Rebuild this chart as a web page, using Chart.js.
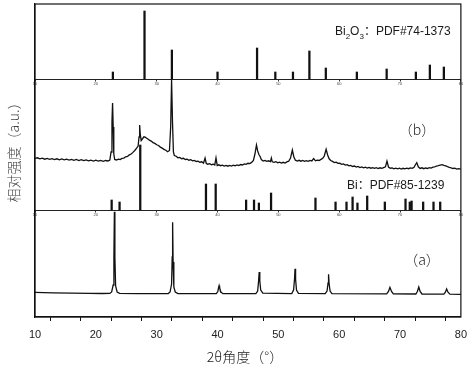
<!DOCTYPE html>
<html>
<head>
<meta charset="utf-8">
<script src="https://cdn.jsdelivr.net/npm/chart.js@4.4.0/dist/chart.umd.min.js"></script>
<style>
  html, body { margin: 0; padding: 0; background: #fff; }
  #wrap { width: 474px; height: 368px; }
</style>
</head>
<body>
<div id="wrap"><canvas id="xrdChart" width="474" height="368"></canvas></div>
<script>
const xTickLabels = [10, 20, 30, 40, 50, 60, 70, 80];

// Bi2O3 reference sticks, PDF#74-1373
const bi2o3Angles = [22.8, 28.0, 32.5, 40.0, 46.5, 49.5, 52.4, 55.1, 57.8, 62.9, 67.8, 72.6, 74.9, 77.2];
const bi2o3Heights = [7, 68, 29, 7, 31, 7, 7, 28, 11, 7, 10, 7, 14, 12];

// Bi reference sticks, PDF#85-1239
const biAngles = [22.6, 23.9, 27.3, 38.1, 39.7, 44.7, 46.0, 46.8, 48.8, 56.1, 59.4, 61.2, 62.2, 63.0, 64.6, 67.5, 70.9, 71.6, 71.9, 73.8, 75.5, 76.6];
const biHeights = [10, 8, 65, 26, 26, 10, 10, 7, 17, 12, 8, 8, 13, 7, 14, 8, 11, 8, 9, 8, 8, 8];

// sample (a)
const aAngles = [10, 13, 16, 19, 21, 22.3, 22.6, 22.85, 22.97, 23.05, 23.13, 23.25, 23.5, 23.9, 27,
  31.9, 32.2, 32.45, 32.55, 32.62, 32.7, 32.82, 33.05, 33.5, 39.8, 40.05, 40.2, 40.26, 40.35, 40.55, 40.9,
  46.3, 46.6, 46.75, 46.85, 46.95, 47.1, 47.45, 52.2, 52.5, 52.66, 52.74, 52.83, 52.98, 53.3,
  57.7, 58.0, 58.17, 58.25, 58.33, 58.5, 58.8, 67.8, 68.1, 68.34, 68.6, 68.9,
  72.6, 72.85, 73.08, 73.3, 73.6, 77.2, 77.45, 77.66, 77.88, 78.2, 80];
const aCounts = [24.6, 24.2, 23.9, 23.6, 23.5, 23.6, 25, 32, 60, 105.3, 60, 31, 25, 23.6, 23.4,
  23.5, 25, 33, 60, 94.7, 55, 30, 25, 23.4, 23.3, 25.5, 30, 31.3, 29, 25, 23.3,
  23.4, 26, 36, 45, 36, 27, 23.8, 23.4, 27, 38, 48.3, 38, 27, 23.6,
  23.3, 26, 34, 42.7, 34, 26, 23.4, 23.1, 25.5, 29.7, 25.5, 23.1,
  23.0, 25.5, 30, 25.5, 23.0, 22.9, 24.8, 28, 24.8, 22.9, 22.7];

// sample (b), [2theta, intensity]
const bPoints = [
  [10.0, 13.5], [10.4, 14.2], [10.8, 13.1], [11.2, 13.9], [11.6, 12.8], [12.0, 13.6], [12.4, 12.7], [12.8, 13.4],
  [13.2, 12.5], [13.6, 13.2], [14.0, 12.2], [14.4, 13.0], [14.8, 12.1], [15.2, 12.8], [15.6, 11.9], [16.0, 12.6],
  [16.4, 11.7], [16.8, 12.5], [17.2, 11.5], [17.6, 12.3], [18.0, 11.4], [18.4, 12.1], [18.8, 11.2], [19.2, 11.9],
  [19.6, 11.0], [20.0, 11.8], [20.4, 10.9], [20.8, 11.6], [21.2, 10.7], [21.6, 11.5], [22.0, 11.0], [22.3, 12.0],
  [22.5, 20], [22.65, 50], [22.75, 69], [22.85, 45], [22.95, 18], [23.1, 12.5], [23.4, 12.0], [23.7, 12.8],
  [24.0, 12.4], [24.3, 13.6], [24.6, 13.9], [24.9, 15.2], [25.2, 15.6], [25.5, 17.1], [25.8, 18.0], [26.1, 19.6],
  [26.4, 21.5], [26.7, 23.8], [26.95, 26], [27.1, 35], [27.2, 47], [27.3, 38], [27.45, 31.5], [27.7, 33.5],
  [27.9, 35.2], [28.1, 34.8], [28.3, 34.0], [28.5, 33.2], [28.8, 31.8], [29.1, 30.9], [29.4, 29.4], [29.7, 28.6],
  [30.0, 27.2], [30.3, 26.5], [30.6, 24.9], [30.9, 23.9], [31.2, 22.6], [31.5, 21.8], [31.8, 20.3], [32.1, 21.5],
  [32.3, 45], [32.45, 92], [32.6, 50], [32.75, 20], [32.9, 16.5], [33.2, 15.8], [33.5, 14.2], [33.8, 14.6],
  [34.1, 13.3], [34.4, 13.7], [34.7, 12.5], [35.0, 12.9], [35.3, 11.8], [35.6, 12.3], [35.9, 11.2], [36.2, 11.6],
  [36.5, 10.5], [36.8, 10.9], [37.1, 9.8], [37.4, 10.2], [37.7, 8.9], [37.95, 14], [38.15, 8.5], [38.4, 7.8],
  [38.7, 8.4], [39.0, 7.3], [39.3, 7.9], [39.55, 7.1], [39.75, 14], [39.95, 6.5], [40.2, 7.2], [40.5, 6.3],
  [40.8, 6.9], [41.1, 5.9], [41.4, 6.6], [41.7, 5.8], [42.0, 6.5], [42.3, 5.9], [42.6, 6.8], [42.9, 6.1],
  [43.2, 7.0], [43.5, 6.4], [43.8, 7.5], [44.1, 7.0], [44.4, 8.1], [44.7, 7.6], [45.0, 8.7], [45.3, 8.4],
  [45.6, 9.6], [45.9, 11.5], [46.15, 18], [46.4, 27], [46.6, 21], [46.8, 17.5], [47.0, 15.5], [47.2, 12.4],
  [47.5, 11.0], [47.8, 11.6], [48.1, 10.6], [48.4, 11.2], [48.7, 10.4], [48.85, 14], [49.0, 10.2], [49.3, 9.6],
  [49.6, 10.3], [49.9, 9.2], [50.2, 9.9], [50.5, 8.9], [50.8, 9.7], [51.1, 9.0], [51.4, 10.1], [51.7, 10.8],
  [52.0, 14], [52.3, 22], [52.55, 15], [52.8, 11.8], [53.1, 11.0], [53.4, 11.7], [53.7, 10.8], [54.0, 11.5],
  [54.3, 10.6], [54.6, 11.4], [54.9, 10.7], [55.2, 11.6], [55.5, 11.1], [55.8, 13.5], [56.1, 11.2], [56.4, 11.9],
  [56.7, 11.5], [57.0, 12.6], [57.3, 13.8], [57.55, 16], [57.85, 22.7], [58.1, 17], [58.35, 13.2], [58.6, 11.5],
  [58.9, 10.6], [59.2, 9.4], [59.5, 9.9], [59.8, 8.6], [60.1, 8.9], [60.4, 7.6], [60.7, 8.1], [61.0, 6.9],
  [61.3, 7.3], [61.6, 6.1], [61.9, 6.6], [62.2, 5.5], [62.5, 6.0], [62.8, 4.9], [63.1, 5.5], [63.4, 4.5],
  [63.7, 5.1], [64.0, 4.2], [64.3, 4.8], [64.6, 3.9], [64.9, 4.6], [65.2, 3.8], [65.5, 4.4], [65.8, 3.6],
  [66.1, 4.3], [66.4, 3.5], [66.7, 4.2], [67.0, 3.6], [67.3, 4.4], [67.6, 5.2], [67.85, 11], [68.1, 5.0],
  [68.4, 3.8], [68.7, 4.1], [69.0, 3.2], [69.3, 3.9], [69.6, 3.1], [69.9, 3.8], [70.2, 3.0], [70.5, 3.7],
  [70.8, 3.1], [71.1, 3.9], [71.4, 3.3], [71.7, 4.1], [72.0, 3.6], [72.3, 4.8], [72.55, 7.5], [72.75, 9.3],
  [73.0, 5.2], [73.3, 3.6], [73.6, 4.2], [73.9, 3.3], [74.2, 4.0], [74.5, 3.5], [74.8, 4.3], [75.1, 3.9],
  [75.4, 4.9], [75.7, 5.2], [76.0, 6.0], [76.3, 6.4], [76.6, 6.9], [76.9, 7.3], [77.2, 6.6], [77.5, 6.1],
  [77.8, 5.3], [78.1, 4.6], [78.4, 4.2], [78.7, 3.5], [79.0, 3.8], [79.3, 2.9], [79.6, 3.4], [80.0, 2.8]
];

// vertical stacking of the panels (y units)
const Y_MAX = 313;
const OFFSET_A = 0;
const OFFSET_B = 145;
const BASE_BI = 107;
const BASE_BI2O3 = 238;

const LATIN = '"Liberation Sans", Arial, "Noto Sans CJK SC", sans-serif';
const CJK = '"Noto Sans CJK SC", "Liberation Sans", sans-serif';

const toSticks = (xs, hs, base) => xs.map((x, i) => ({ x: x, y: [base, base + hs[i]] }));

function drawRuns(ctx, runs, x, y, size) {
    ctx.textAlign = 'left';
    ctx.textBaseline = 'alphabetic';
    for (const r of runs) {
        const s = r.sub ? Math.round(size * 0.7) : size;
        ctx.font = s + 'px ' + LATIN;
        ctx.fillText(r.t, x, r.sub ? y + size * 0.3 : y);
        x += ctx.measureText(r.t).width;
    }
}

const labelsPlugin = {
    id: 'labels',
    afterDraw(chart) {
        const ctx = chart.ctx;
        const a = chart.chartArea;
        ctx.save();
        ctx.strokeStyle = '#111';
        ctx.lineWidth = 1.2;
        ctx.strokeRect(a.left, a.top, a.right - a.left, a.bottom - a.top);

        ctx.fillStyle = '#1a1a1a';
        drawRuns(ctx, [{ t: 'Bi' }, { t: '2', sub: true }, { t: 'O' }, { t: '3', sub: true }, { t: '：PDF#74-1373' }], 335, 35, 12);
        drawRuns(ctx, [{ t: 'Bi：PDF#85-1239' }], 347, 189, 12);

        ctx.textAlign = 'center';
        ctx.textBaseline = 'middle';
        ctx.font = '300 14px ' + CJK;
        ctx.fillText('（b）', 417, 130);
        ctx.fillText('（a）', 422, 260);

        ctx.fillText('2θ角度（°）', 245, 357);

        ctx.fillStyle = '#444';
        ctx.translate(14, 149);
        ctx.rotate(-Math.PI / 2);
        ctx.fillText('相对强度（a.u.）', 0, 0);
        ctx.restore();
    }
};

const innerAxis = (base) => ({
    type: 'linear',
    axis: 'x',
    min: 10,
    max: 80,
    position: { y: base },
    ticks: { stepSize: 10, maxRotation: 0, color: '#444', padding: 1, font: { size: 4, family: LATIN } },
    grid: { drawOnChartArea: false, tickLength: 1.5, color: '#333' },
    border: { display: true, color: '#222', width: 1 }
});

new Chart(document.getElementById('xrdChart'), {
    type: 'line',
    data: {
        datasets: [
            {
                type: 'bar',
                data: toSticks(bi2o3Angles, bi2o3Heights, BASE_BI2O3),
                backgroundColor: '#111',
                barThickness: 1.6,
                grouped: false
            },
            {
                type: 'bar',
                data: toSticks(biAngles, biHeights, BASE_BI),
                backgroundColor: '#111',
                barThickness: 1.6,
                grouped: false
            },
            {
                data: aAngles.map((x, i) => ({ x: x, y: aCounts[i] + OFFSET_A })),
                borderColor: '#111',
                borderWidth: 1.3,
                pointRadius: 0,
                tension: 0
            },
            {
                data: bPoints.map(p => ({ x: p[0], y: p[1] + OFFSET_B })),
                borderColor: '#111',
                borderWidth: 1.3,
                pointRadius: 0,
                tension: 0
            }
        ]
    },
    options: {
        responsive: false,
        animation: false,
        layout: { padding: { top: 4, right: 11, left: 0, bottom: 0 } },
        plugins: { legend: { display: false }, tooltip: { enabled: false } },
        scales: {
            x: {
                type: 'linear',
                min: 10,
                max: 80,
                offset: false,
                position: 'bottom',
                ticks: {
                    stepSize: 5,
                    autoSkip: false,
                    maxRotation: 0,
                    padding: 7,
                    color: '#222',
                    font: { size: 11, family: LATIN },
                    callback: v => xTickLabels.includes(v) ? String(v) : ''
                },
                grid: { drawOnChartArea: false, tickLength: 4, color: '#111' },
                border: { display: true, color: '#111', width: 1.2 },
                afterFit: s => { s.height = 51; }
            },
            xTop: innerAxis(BASE_BI2O3),
            xMid: innerAxis(BASE_BI),
            y: {
                type: 'linear',
                min: 0,
                max: Y_MAX,
                ticks: { display: false },
                grid: { display: false },
                border: { display: true, color: '#111', width: 1.2 },
                afterFit: s => { s.width = 35; }
            }
        }
    },
    plugins: [labelsPlugin]
});
</script>
</body>
</html>
